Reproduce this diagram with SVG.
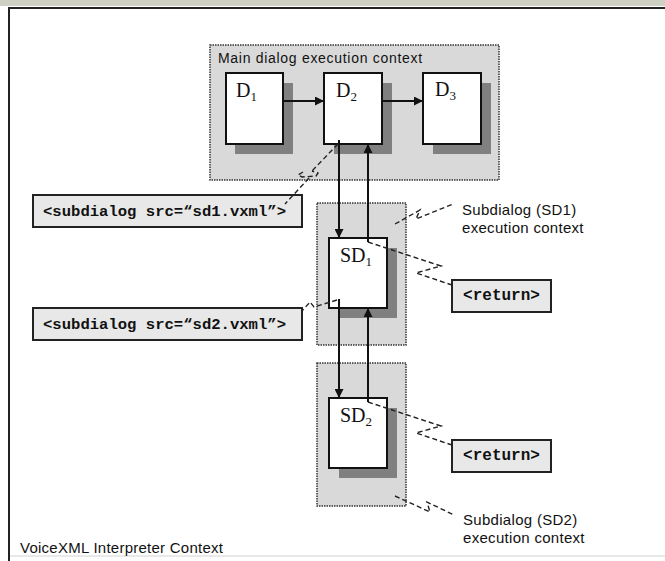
<svg xmlns="http://www.w3.org/2000/svg" width="665" height="561" viewBox="0 0 665 561">
<defs>
<marker id="ah" viewBox="0 0 10 10" refX="10" refY="5" markerWidth="9" markerHeight="9" markerUnits="userSpaceOnUse" orient="auto">
<path d="M0,0 L10,5 L0,10 z" fill="#111"/>
</marker>
</defs>
<style>
.ctx{fill:#d9d9d9;stroke:#333;stroke-width:1.5;stroke-dasharray:1.5 1}
.shadow{fill:#808080}
.box{fill:#fff;stroke:#111;stroke-width:2}
.code{fill:#e8e8e8;stroke:#222;stroke-width:2}
.ser{font-family:"Liberation Serif","Times New Roman",serif;fill:#111}
.sans{font-family:"Liberation Sans",Arial,sans-serif;fill:#111}
.mono{font-family:"Liberation Mono","Courier New",monospace;font-weight:bold;fill:#111}
.arr{stroke:#111;stroke-width:2;fill:none}
.dash{stroke:#222;stroke-width:1.4;fill:none;stroke-dasharray:5 3}
</style>
<rect x="0" y="0" width="665" height="561" fill="#fff"/>
<rect x="0" y="0" width="665" height="6" fill="#cfd0c4"/>
<g id="frame">
<line x1="9" y1="8" x2="665" y2="8" stroke="#222" stroke-width="2"/>
<line x1="9" y1="7" x2="9" y2="561" stroke="#222" stroke-width="2"/>
<line x1="10" y1="556" x2="665" y2="556" stroke="#e2e2e2" stroke-width="1.5"/>
<text class="sans" x="20" y="553" font-size="15" letter-spacing="0.25">VoiceXML Interpreter Context</text>
</g>
<g id="main-context">
<rect class="ctx" x="210" y="45" width="289" height="135"/>
<text class="sans" x="218" y="63" font-size="14" letter-spacing="0.7">Main dialog execution context</text>
</g>
<g id="sd1-context">
<rect class="ctx" x="317" y="203" width="89" height="142"/>
</g>
<g id="sd2-context">
<rect class="ctx" x="317" y="363" width="89" height="143"/>
</g>
<g id="D1">
<rect class="shadow" x="235" y="83" width="58" height="71"/>
<rect class="box" x="226" y="73" width="57" height="71"/>
<text class="ser" x="236" y="97" font-size="20">D<tspan font-size="13" dy="4">1</tspan></text>
</g>
<g id="D2">
<rect class="shadow" x="334" y="83" width="58" height="71"/>
<rect class="box" x="324" y="73" width="58" height="71"/>
<text class="ser" x="336" y="97" font-size="20">D<tspan font-size="13" dy="4">2</tspan></text>
</g>
<g id="D3">
<rect class="shadow" x="433" y="83" width="58" height="71"/>
<rect class="box" x="423" y="73" width="58" height="71"/>
<text class="ser" x="435" y="96" font-size="20">D<tspan font-size="13" dy="4">3</tspan></text>
</g>
<g id="SD1">
<rect class="shadow" x="339" y="248" width="58" height="70"/>
<rect class="box" x="329" y="238" width="58" height="70"/>
<text class="ser" x="340" y="262" font-size="20">SD<tspan font-size="13" dy="4">1</tspan></text>
</g>
<g id="SD2">
<rect class="shadow" x="339" y="408" width="58" height="70"/>
<rect class="box" x="329" y="398" width="58" height="70"/>
<text class="ser" x="340" y="422" font-size="20">SD<tspan font-size="13" dy="4">2</tspan></text>
</g>
<g id="subdialog-sd1">
<rect class="code" x="33" y="195" width="269" height="32"/>
<text class="mono" x="43" y="216" font-size="15.5" textLength="243" lengthAdjust="spacingAndGlyphs">&lt;subdialog src=“sd1.vxml”&gt;</text>
</g>
<g id="subdialog-sd2">
<rect class="code" x="33" y="308" width="269" height="32"/>
<text class="mono" x="43" y="329" font-size="15.5" textLength="243" lengthAdjust="spacingAndGlyphs">&lt;subdialog src=“sd2.vxml”&gt;</text>
</g>
<g id="return1">
<rect class="code" x="452" y="280" width="99" height="32"/>
<text class="mono" x="501.5" y="300" font-size="16" text-anchor="middle">&lt;return&gt;</text>
</g>
<g id="return2">
<rect class="code" x="452" y="440" width="99" height="32"/>
<text class="mono" x="501.5" y="460" font-size="16" text-anchor="middle">&lt;return&gt;</text>
</g>
<g id="label-sd1">
<text class="sans" x="462" y="215" font-size="15" letter-spacing="0.3">Subdialog (SD1)</text>
<text class="sans" x="462" y="233" font-size="15" letter-spacing="0.3">execution context</text>
</g>
<g id="label-sd2">
<text class="sans" x="463" y="525" font-size="15" letter-spacing="0.3">Subdialog (SD2)</text>
<text class="sans" x="463" y="543" font-size="15" letter-spacing="0.3">execution context</text>
</g>
<g id="connectors">
<line class="arr" x1="283" y1="101" x2="324" y2="101" marker-end="url(#ah)"/>
<line class="arr" x1="382" y1="101" x2="423" y2="101" marker-end="url(#ah)"/>
<line class="arr" x1="339" y1="140" x2="339" y2="238" marker-end="url(#ah)"/>
<line class="arr" x1="368" y1="242" x2="368" y2="144" marker-end="url(#ah)"/>
<line class="arr" x1="339" y1="299" x2="339" y2="398" marker-end="url(#ah)"/>
<line class="arr" x1="368" y1="402" x2="368" y2="308" marker-end="url(#ah)"/>
<path class="dash" d="M338,144 L311,172 M303,172 L298,175 L302,177 L316,176 L318,173 L312,171 M309,178 L285,204"/>
<path class="dash" d="M337,300 L314,307 L310,302 L302,311"/>
<path class="dash" d="M395,224 L420,210 L416,219 L453,204"/>
<path class="dash" d="M368,242 L441,266 L416,273 L452,285"/>
<path class="dash" d="M368,402 L441,426 L416,433 L452,445"/>
<path class="dash" d="M395,496 L430,512 L427,502 L454,515"/>
</g>
</svg>
